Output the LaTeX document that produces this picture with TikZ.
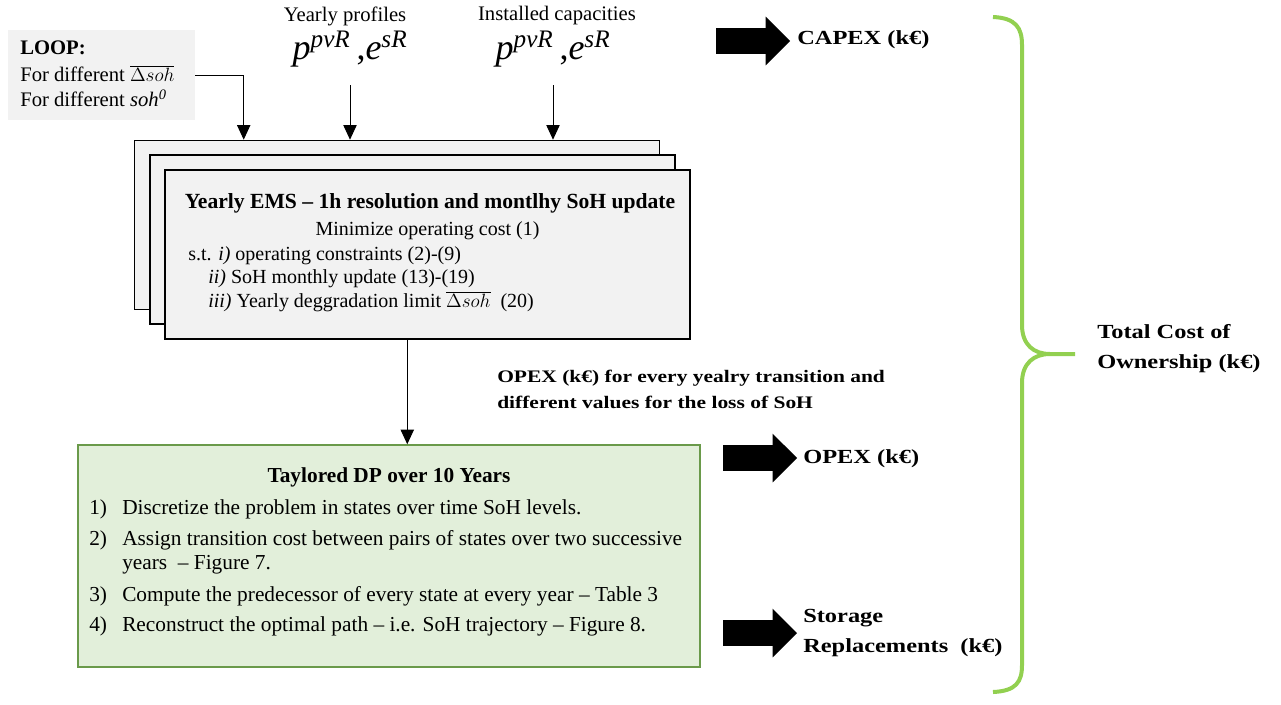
\documentclass[tikz,border=0pt]{standalone}
\usepackage{fontspec}
\setmainfont{Liberation Serif}
\newfontfamily\widebf[FakeStretch=1.22]{Liberation Serif}
\usetikzlibrary{arrows.meta,shapes.arrows,calc,positioning}
\definecolor{boxgray}{HTML}{F2F2F2}
\definecolor{dpfill}{HTML}{E2EFDA}
\definecolor{dpline}{HTML}{6A9A4A}
\definecolor{bracegreen}{HTML}{92D050}
\tikzset{
  arr/.style={draw, line width=0.75pt, -{Triangle[length=11pt,width=10pt]}},
  emsbox/.style={draw, line width=1.2pt, fill=boxgray, inner sep=0pt,
    minimum width=525*0.75pt, minimum height=169*0.75pt},
  txt/.style={font=\fontsize{15}{18}\selectfont, inner sep=0pt},
  dptxt/.style={font=\fontsize{16}{19}\selectfont, inner sep=0pt, anchor=west},
  bigtxt/.style={font=\fontsize{15}{22.5}\selectfont\widebf\bfseries, inner sep=0pt, align=left},
  blockarrow/.style={single arrow, fill=black, draw=none, inner sep=0pt, outer sep=0pt,
    inner ysep=12.5*0.75pt, minimum width=48*0.75pt, minimum height=74*0.75pt,
    single arrow head extend=11.5*0.75pt, anchor=tail}
}
\begin{document}
\begin{tikzpicture}[x=0.75pt, y=-0.75pt]
\useasboundingbox (0,0) rectangle (1281,704);
% loop box
\node[fill=boxgray, minimum width=187*0.75pt, minimum height=90*0.75pt] (loop) at (101.5,75) {};
\node[txt, anchor=west, font=\fontsize{15.5}{18}\selectfont\bfseries] (looptitle) at (20,48) {LOOP:};
\node[txt, anchor=west, font=\fontsize{15.5}{18}\selectfont] (loopa) at (20,74) {For different $\overline{\Delta soh}$};
\node[txt, anchor=west, font=\fontsize{15.5}{18}\selectfont] (loopb) at (20,98) {For different \textit{soh\textsuperscript{0}}};
% inputs
\node[txt, font=\fontsize{15.5}{18}\selectfont] (proflabel) at (345,16) {Yearly profiles};
\node[txt, font=\fontsize{15.5}{18}\selectfont] (caplabel) at (557,16) {Installed capacities};
\node[inner sep=0pt, font=\fontsize{27}{27}\selectfont] (profform) at (350,49)
  {\textit{p}\textsuperscript{\textit{pvR}}\,,\textit{e}\textsuperscript{\textit{sR}}};
\node[inner sep=0pt, font=\fontsize{27}{27}\selectfont] (capform) at (553,49)
  {\textit{p}\textsuperscript{\textit{pvR}}\,,\textit{e}\textsuperscript{\textit{sR}}};
% stack of yearly EMS boxes
\node[emsbox] (back) at (397,225) {};
\node[emsbox] (middle) at (412.5,239.5) {};
\node[emsbox] (front) at (427.5,254.5) {};
\node[txt, font=\fontsize{16.2}{18}\selectfont\bfseries] (emstitle) at (430,203)
  {Yearly EMS -- 1h resolution and montlhy SoH update};
\node[txt] (emsobj) at (427.5,231) {Minimize operating cost (1)};
\node[txt, anchor=west] (emsc1) at (188,256) {s.t. \textit{i)} operating constraints (2)-(9)};
\node[txt, anchor=west] (emsc2) at (208,279) {\textit{ii)} SoH monthly update (13)-(19)};
\node[txt, anchor=west] (emsc3) at (208,302) {\textit{iii)} Yearly deggradation limit $\overline{\Delta soh}$~ (20)};
\coordinate (loopin) at ($(back.north west)+(110,0)$);
\draw[arr] (loop.east) -| (loopin);
\draw[arr] (profform.south |- 0,85) -- (profform.south |- back.north);
\draw[arr] (capform.south |- 0,85) -- (capform.south |- back.north);
% tailored DP box
\node[draw=dpline, line width=1.1pt, fill=dpfill, minimum width=622*0.75pt, minimum height=222*0.75pt] (dp) at (389,556) {};
\node[dptxt, anchor=center, font=\fontsize{16}{19}\selectfont\bfseries] (dptitle) at (389,477) {Taylored DP over 10 Years};
\node[dptxt] (dpn1) at (89,509) {1)};
\node[dptxt] (dps1) at (122,509) {Discretize the problem in states over time SoH levels.};
\node[dptxt] (dpn2) at (89,540) {2)};
\node[dptxt] (dps2) at (122,540) {Assign transition cost between pairs of states over two successive};
\node[dptxt] (dps2b) at (122,565) {years~ -- Figure 7.};
\node[dptxt] (dpn3) at (89,596) {3)};
\node[dptxt] (dps3) at (122,596) {Compute the predecessor of every state at every year -- Table 3};
\node[dptxt] (dpn4) at (89,626) {4)};
\node[dptxt] (dps4) at (122,626) {Reconstruct the optimal path -- i.e. SoH trajectory -- Figure 8.};
\coordinate (dpin) at ($(dp.north west)+(330,0)$);
\draw[arr] (dpin |- front.south) -- (dpin);
\node[bigtxt, anchor=north west, font=\fontsize{13.2}{19}\selectfont\widebf\bfseries] (opexnote) at (497,370)
  {OPEX (k€) for every yealry transition and\\different values for the loss of SoH};
% cost outputs
\node[blockarrow] (capexarr) at (716,41) {};
\node[bigtxt, anchor=west] (capex) at (797,40) {CAPEX (k€)};
\node[blockarrow] (opexarr) at (723,458) {};
\node[bigtxt, anchor=west] (opex) at (803,459) {OPEX (k€)};
\node[blockarrow] (storarr) at (723,633) {};
\node[bigtxt, anchor=west] (stor) at (803,633) {Storage\\Replacements~ (k€)};
% brace and total
\draw[bracegreen, line width=3pt] (993,17) .. controls (1016,18) and (1022,28) .. (1022,45)
  -- (1022,325) .. controls (1022,345) and (1034,354) .. (1050,354) -- (1075,354)
  (1050,354) .. controls (1034,354) and (1022,363) .. (1022,383)
  -- (1022,665) .. controls (1022,682) and (1016,691) .. (993,692);
\node[bigtxt, anchor=west] (tco) at (1097,349) {Total Cost of\\Ownership (k€)};
\end{tikzpicture}
\end{document}
